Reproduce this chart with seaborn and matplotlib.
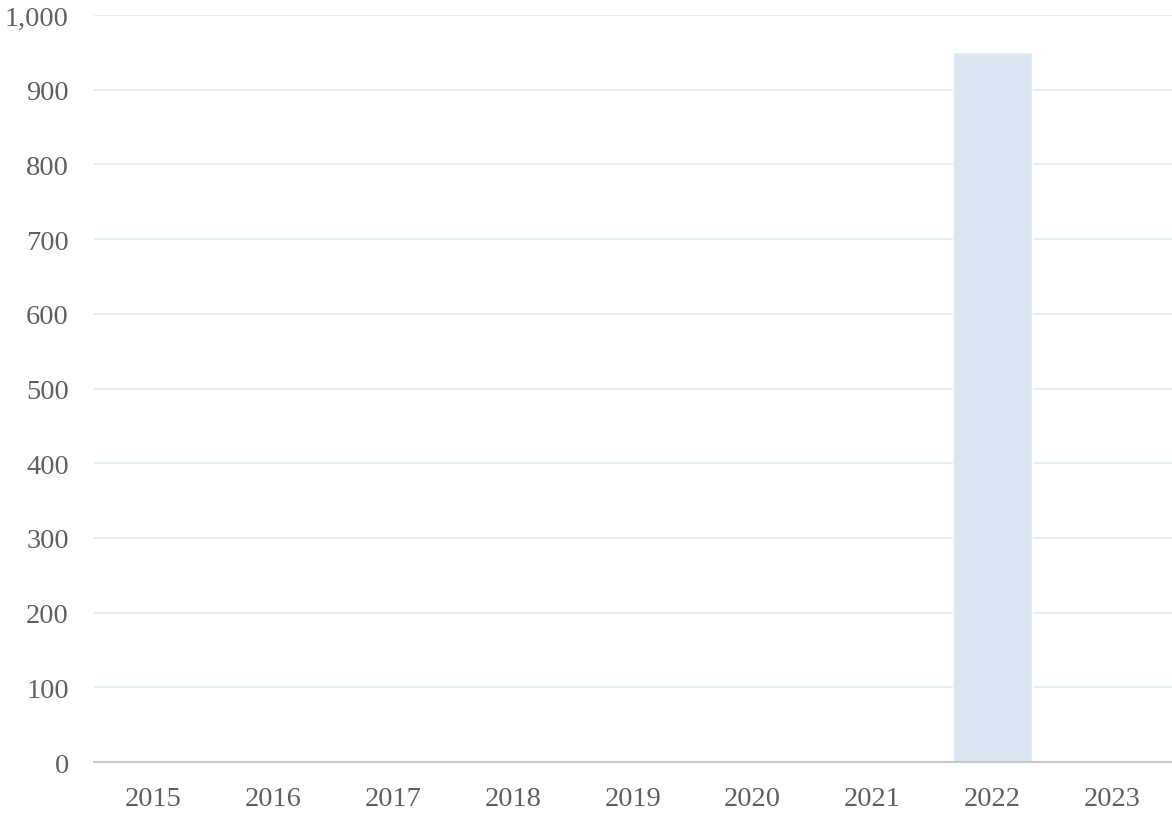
import matplotlib
matplotlib.use("Agg")
import matplotlib.pyplot as plt
import matplotlib.ticker as mticker
import seaborn as sns
import pandas as pd

years = ["2015", "2016", "2017", "2018", "2019", "2020", "2021", "2022", "2023"]
values = [0, 0, 0, 0, 0, 0, 0, 950, 0]

sns.set_theme(style="white")
plt.rcParams['font.family'] = ['Liberation Serif', 'DejaVu Serif']

df = pd.DataFrame({'year': years, 'value': values})

fig = plt.figure(figsize=(11.72, 8.2), dpi=100)
ax = fig.add_axes([0.080, 0.0695, 0.92, 0.911])

sns.barplot(data=df, x='year', y='value', color='#dce6f2', saturation=1,
            width=0.655, ax=ax, zorder=2)

ax.set_ylim(0, 1000)
ax.set_xlim(-0.5, 8.5)
ax.yaxis.set_major_locator(mticker.MultipleLocator(100))
ax.yaxis.set_major_formatter(mticker.FuncFormatter(lambda v, p: f"{int(v):,}"))
ax.grid(axis='y', color='#ddeef5', linewidth=1.2, zorder=0)
ax.set_axisbelow(True)

for s in ['top', 'right', 'left']:
    ax.spines[s].set_visible(False)
ax.spines['bottom'].set_color('#c8c8c8')
ax.spines['bottom'].set_linewidth(1.5)

ax.set_xlabel('')
ax.set_ylabel('')
ax.tick_params(axis='both', length=0, labelsize=20.5, labelcolor='#606060')
ax.tick_params(axis='y', pad=18)
ax.tick_params(axis='x', pad=17)

fig.savefig('out.png', dpi=100)
